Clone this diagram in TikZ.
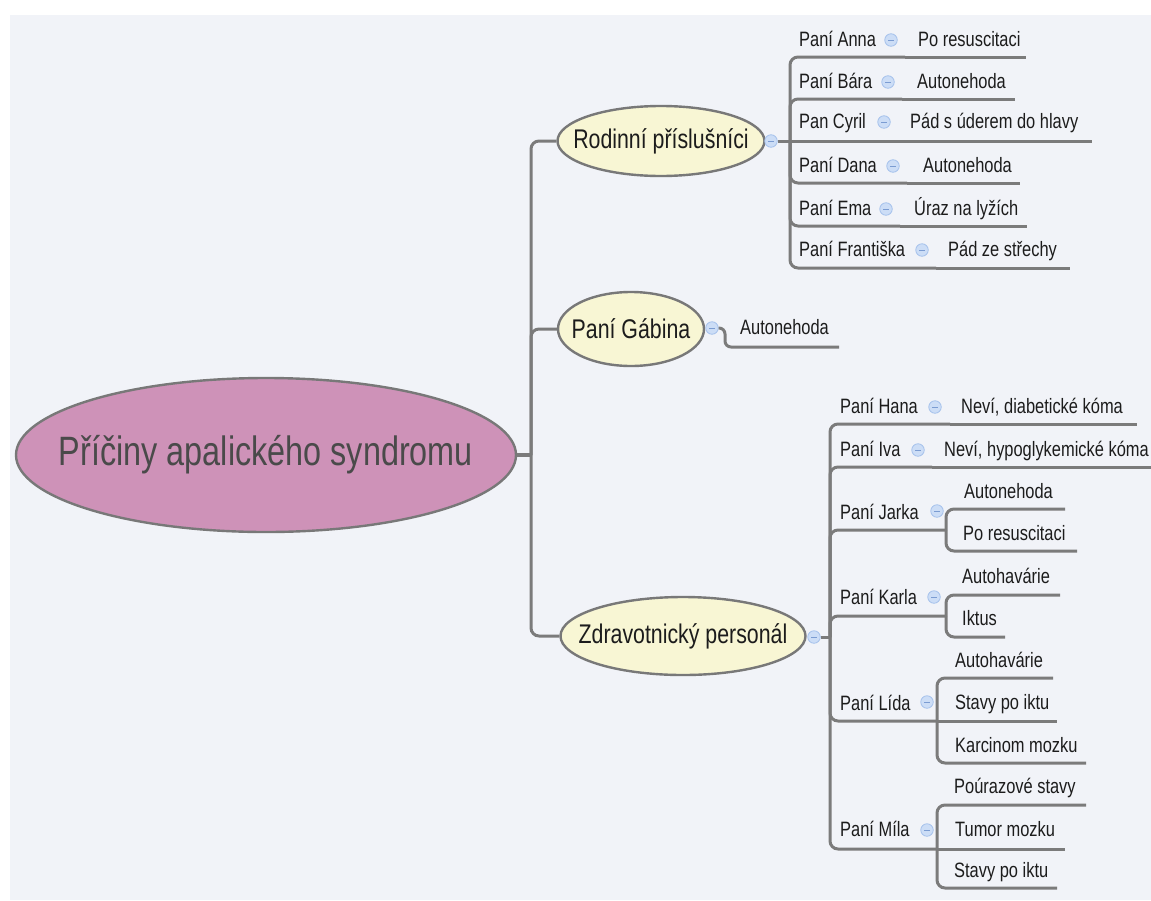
\documentclass[tikz,border=0pt]{standalone}
\usepackage{fontspec}
\setmainfont{Liberation Sans}[FakeStretch=0.79]
\usetikzlibrary{shapes.geometric}

\definecolor{bg}{HTML}{F1F3F8}
\definecolor{linegray}{HTML}{7B7B7B}
\definecolor{edgegray}{HTML}{787878}
\definecolor{rootfill}{HTML}{CE92B8}
\definecolor{topicfill}{HTML}{F8F6D4}
\definecolor{foldfill}{HTML}{CCDDF6}
\definecolor{foldedge}{HTML}{A6C2EC}
\definecolor{foldminus}{HTML}{7B9CD2}
\definecolor{textdark}{HTML}{1C1C1C}
\definecolor{titletext}{HTML}{4A4A4A}

% ellipse labels are set in a zero-width box so that the ellipse
% size is given by minimum width / minimum height alone
\newcommand{\ctext}[1]{\makebox[0pt]{#1}}

\tikzset{
  x=1pt, y=-1pt,
  conn/.style={draw=linegray, line width=3pt, rounded corners=8pt},
  rootbox/.style={ellipse, draw=edgegray, line width=2.4pt, fill=rootfill,
    inner sep=0pt, text=titletext, font=\fontsize{41}{46}\selectfont},
  topicbox/.style={ellipse, draw=edgegray, line width=2.4pt, fill=topicfill,
    inner sep=0pt, text=textdark, font=\fontsize{27}{31}\selectfont},
  leaf/.style={anchor=base west, inner sep=0pt, text=textdark,
    font=\fontsize{20.8}{25}\selectfont},
  fold/.style={circle, fill=foldfill, draw=foldedge, line width=0.8pt,
    minimum size=12.5pt, inner sep=0pt,
    path picture={\draw[foldminus, line width=0.9pt]
      ([xshift=-3pt]path picture bounding box.center) --
      ([xshift=3pt]path picture bounding box.center);}},
}

\begin{document}
\begin{tikzpicture}
\useasboundingbox (0,0) rectangle (1151,900);
\fill[white] (0,0) rectangle (1151,900);
\fill[bg] (10,15) rectangle (1151,900);

% ---------- root and main topics ----------
\node[rootbox, minimum width=500pt, minimum height=154pt] (root) at (266,455) {\ctext{Příčiny apalického syndromu}};
\node[topicbox, minimum width=207pt, minimum height=70pt] (rod) at (661,141) {\ctext{Rodinní příslušníci}};
\node[topicbox, minimum width=146pt, minimum height=74pt] (gab) at (631,329) {\ctext{Paní Gábina}};
\node[topicbox, minimum width=245pt, minimum height=78pt] (zdr) at (683,636) {\ctext{Zdravotnický personál}};

\coordinate (trunk) at (531,455);
\draw[draw=linegray, line width=4.5pt] (root.east) -- (trunk);
\draw[conn] (trunk) |- (rod.west);
\draw[conn] (trunk) |- (gab.west);
\draw[conn] (trunk) |- (zdr.west);

% ---------- Rodinní příslušníci ----------
\node[fold] (rod-f) at (771,141) {};
\coordinate (rj) at (790,141);
\draw[conn] (rod-f.east) -- (rj);

\node[leaf] (anna) at (799,46) {Paní Anna};
\node[fold] (anna-f) at (891,40) {};
\node[leaf] (anna-g) at (918,46) {Po resuscitaci};
\coordinate (anna-j) at (905,57);
\coordinate (anna-e) at (1026,57);
\draw[conn] (rj) |- (anna-j);
\draw[conn] (anna-j) -- (anna-e);

\node[leaf] (bara) at (799,88) {Paní Bára};
\node[fold] (bara-f) at (888,82) {};
\node[leaf] (bara-g) at (917,88) {Autonehoda};
\coordinate (bara-j) at (902,99);
\coordinate (bara-e) at (1015,99);
\draw[conn] (rj) |- (bara-j);
\draw[conn] (bara-j) -- (bara-e);

\node[leaf] (cyril) at (799,128) {Pan Cyril};
\node[fold] (cyril-f) at (884,122) {};
\node[leaf] (cyril-g) at (910,128) {Pád s úderem do hlavy};
\coordinate (cyril-j) at (898,141);
\coordinate (cyril-e) at (1092,141);
\draw[conn] (rj) -- (cyril-j);
\draw[conn] (cyril-j) -- (cyril-e);

\node[leaf] (dana) at (799,172) {Paní Dana};
\node[fold] (dana-f) at (893,166) {};
\node[leaf] (dana-g) at (923,172) {Autonehoda};
\coordinate (dana-j) at (907,183);
\coordinate (dana-e) at (1020,183);
\draw[conn] (rj) |- (dana-j);
\draw[conn] (dana-j) -- (dana-e);

\node[leaf] (ema) at (799,215) {Paní Ema};
\node[fold] (ema-f) at (886,209) {};
\node[leaf] (ema-g) at (914,215) {Úraz na lyžích};
\coordinate (ema-j) at (900,226);
\coordinate (ema-e) at (1027,226);
\draw[conn] (rj) |- (ema-j);
\draw[conn] (ema-j) -- (ema-e);

\node[leaf] (fran) at (799,256) {Paní Františka};
\node[fold] (fran-f) at (922,250) {};
\node[leaf] (fran-g) at (948,256) {Pád ze střechy};
\coordinate (fran-j) at (936,268);
\coordinate (fran-e) at (1070,268);
\draw[conn] (rj) |- (fran-j);
\draw[conn] (fran-j) -- (fran-e);

% ---------- Paní Gábina ----------
\node[fold] (gab-f) at (712,328) {};
\node[leaf] (gab-g) at (740,334) {Autonehoda};
\coordinate (gab-k) at (725,328);
\coordinate (gab-e) at (839,347);
\draw[conn, rounded corners=6pt] (gab-f.east) -- (gab-k) |- (gab-e);

% ---------- Zdravotnický personál ----------
\node[fold] (zdr-f) at (814,637) {};
\coordinate (zj) at (830,637);
\draw[conn] (zdr-f.east) -- (zj);

\node[leaf] (hana) at (840,413) {Paní Hana};
\node[fold] (hana-f) at (935,407) {};
\node[leaf] (hana-g) at (961,413) {Neví, diabetické kóma};
\coordinate (hana-j) at (950,424);
\coordinate (hana-e) at (1137,424);
\draw[conn] (zj) |- (hana-j);
\draw[conn] (hana-j) -- (hana-e);

\node[leaf] (iva) at (840,456) {Paní Iva};
\node[fold] (iva-f) at (918,450) {};
\node[leaf] (iva-g) at (944,456) {Neví, hypoglykemické kóma};
\coordinate (iva-j) at (932,467);
\coordinate (iva-e) at (1151,467);
\draw[conn] (zj) |- (iva-j);
\draw[conn] (iva-j) -- (iva-e);

\node[leaf] (jarka) at (840,519) {Paní Jarka};
\node[fold] (jarka-f) at (937,511) {};
\coordinate (jarka-j) at (946,530);
\draw[conn] (zj) |- (jarka-j);
\node[leaf] (jarka-g1) at (964,498) {Autonehoda};
\node[leaf] (jarka-g2) at (963,540) {Po resuscitaci};
\coordinate (jarka-e1) at (1065,509);
\coordinate (jarka-e2) at (1077,551);
\draw[conn] (jarka-j) |- (jarka-e1);
\draw[conn] (jarka-j) |- (jarka-e2);

\node[leaf] (karla) at (840,604) {Paní Karla};
\node[fold] (karla-f) at (934,597) {};
\coordinate (karla-j) at (946,616);
\draw[conn] (zj) |- (karla-j);
\node[leaf] (karla-g1) at (962,583) {Autohavárie};
\node[leaf] (karla-g2) at (962,625) {Iktus};
\coordinate (karla-e1) at (1060,595);
\coordinate (karla-e2) at (1005,637);
\draw[conn] (karla-j) |- (karla-e1);
\draw[conn] (karla-j) |- (karla-e2);

\node[leaf] (lida) at (840,710) {Paní Lída};
\node[fold] (lida-f) at (927,702) {};
\coordinate (lida-j) at (937,721);
\draw[conn] (zj) |- (lida-j);
\node[leaf] (lida-g1) at (955,667) {Autohavárie};
\node[leaf] (lida-g2) at (955,709) {Stavy po iktu};
\node[leaf] (lida-g3) at (955,752) {Karcinom mozku};
\coordinate (lida-e1) at (1053,678);
\coordinate (lida-e2) at (1057,721);
\coordinate (lida-e3) at (1086,763);
\draw[conn] (lida-j) |- (lida-e1);
\draw[conn] (lida-j) -- (lida-e2);
\draw[conn] (lida-j) |- (lida-e3);

\node[leaf] (mila) at (840,836) {Paní Míla};
\node[fold] (mila-f) at (927,830) {};
\coordinate (mila-j) at (937,849);
\draw[conn] (zj) |- (mila-j);
\node[leaf] (mila-g1) at (954,793) {Poúrazové stavy};
\node[leaf] (mila-g2) at (955,836) {Tumor mozku};
\node[leaf] (mila-g3) at (954,877) {Stavy po iktu};
\coordinate (mila-e1) at (1086,805);
\coordinate (mila-e2) at (1065,849);
\coordinate (mila-e3) at (1057,888);
\draw[conn] (mila-j) |- (mila-e1);
\draw[conn] (mila-j) -- (mila-e2);
\draw[conn] (mila-j) |- (mila-e3);
\end{tikzpicture}
\end{document}
